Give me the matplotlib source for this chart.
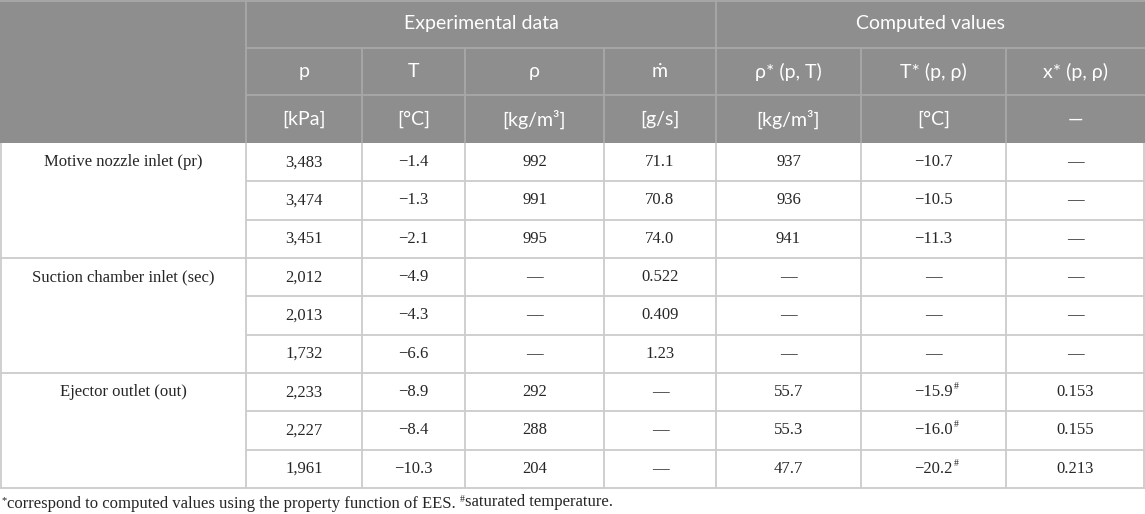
import matplotlib
matplotlib.use("Agg")
import matplotlib.pyplot as plt
from matplotlib.patches import Rectangle

# ---------------- data ----------------
groups = ["Motive nozzle inlet (pr)", "Suction chamber inlet (sec)", "Ejector outlet (out)"]
group_top_header = ["Experimental data", "Computed values"]
col_symbols = ["p", "T", "ρ", "ṁ", "ρ* (p, T)", "T* (p, ρ)", "x* (p, ρ)"]
col_units = ["[kPa]", "[°C]", "[kg/m³]", "[g/s]", "[kg/m³]", "[°C]", "—"]

p_vals = ["3,483", "3,474", "3,451", "2,012", "2,013", "1,732", "2,233", "2,227", "1,961"]
T_vals = ["−1.4", "−1.3", "−2.1", "−4.9", "−4.3", "−6.6", "−8.9", "−8.4", "−10.3"]
rho_vals = ["992", "991", "995", "—", "—", "—", "292", "288", "204"]
mdot_vals = ["71.1", "70.8", "74.0", "0.522", "0.409", "1.23", "—", "—", "—"]
rho_star_vals = ["937", "936", "941", "—", "—", "—", "55.7", "55.3", "47.7"]
T_star_vals = ["−10.7", "−10.5", "−11.3", "—", "—", "—", "−15.9", "−16.0", "−20.2"]
T_star_sat = [False, False, False, False, False, False, True, True, True]
x_star_vals = ["—", "—", "—", "—", "—", "—", "0.153", "0.155", "0.213"]

footnote_a = "correspond to computed values using the property function of EES. "
footnote_b = "saturated temperature."

# ---------------- layout ----------------
W, H = 1145, 514
col_edges = [0, 246, 362, 465, 604, 716, 861, 1006, 1145]
span_edges = [246, 716, 1145]
head_rows = [0, 48, 95, 143]
row_h = 38.33
n_rows = len(p_vals)
rows_per_group = 3
body_top = head_rows[-1]

HEAD_BG = "#8e8e8e"
HEAD_LINE = "#a8a8a8"
BODY_LINE = "#cccccc"
TXT = "#262626"
SANS = ["Lato", "DejaVu Sans"]
SERIF = ["Liberation Serif", "DejaVu Serif"]

fig = plt.figure(figsize=(W / 100, H / 100), dpi=100)
ax = fig.add_axes([0, 0, 1, 1])
ax.set_xlim(0, W)
ax.set_ylim(H, 0)
ax.axis("off")

# header background
ax.add_patch(Rectangle((0, 0), W, head_rows[-1], facecolor=HEAD_BG, edgecolor="none", zorder=0))

# header lines
lw = 1.3
ax.hlines([0.7], 0, W, color=HEAD_LINE, lw=lw, zorder=1)
ax.hlines(head_rows[1:3], col_edges[1], W, color=HEAD_LINE, lw=lw, zorder=1)
ax.vlines(span_edges[:-1], head_rows[0], head_rows[1], color=HEAD_LINE, lw=lw, zorder=1)
ax.vlines(col_edges[1:-1], head_rows[1], head_rows[3], color=HEAD_LINE, lw=lw, zorder=1)

# header texts
hfs = 14
for i, lab in enumerate(group_top_header):
    cx = (span_edges[i] + span_edges[i + 1]) / 2
    ax.text(cx, (head_rows[0] + head_rows[1]) / 2, lab, ha="center", va="center",
            color="white", fontsize=hfs, family=SANS)
for j, (s, u) in enumerate(zip(col_symbols, col_units)):
    cx = (col_edges[j + 1] + col_edges[j + 2]) / 2
    ax.text(cx, (head_rows[1] + head_rows[2]) / 2, s, ha="center", va="center",
            color="white", fontsize=hfs, family=SANS)
    ax.text(cx, (head_rows[2] + head_rows[3]) / 2, u, ha="center", va="center",
            color="white", fontsize=hfs, family=SANS)

# body lines
row_bounds = [body_top + k * row_h for k in range(n_rows + 1)]
for k, yb in enumerate(row_bounds[1:], start=1):
    if k % rows_per_group == 0:
        ax.hlines(yb, 0, W, color=BODY_LINE, lw=lw, zorder=1)
    else:
        ax.hlines(yb, col_edges[1], W, color=BODY_LINE, lw=lw, zorder=1)
ax.vlines([0.7] + col_edges[1:-1] + [W - 0.7], body_top, row_bounds[-1], color=BODY_LINE, lw=lw, zorder=1)

# body texts
bfs = 12
columns = [p_vals, T_vals, rho_vals, mdot_vals, rho_star_vals, T_star_vals, x_star_vals]
for g, name in enumerate(groups):
    yc = body_top + (g * rows_per_group + 0.5) * row_h
    ax.text((col_edges[0] + col_edges[1]) / 2, yc, name, ha="center", va="center",
            color=TXT, fontsize=bfs, family=SERIF)
for j, colvals in enumerate(columns):
    cx = (col_edges[j + 1] + col_edges[j + 2]) / 2
    for i, v in enumerate(colvals):
        yc = body_top + (i + 0.5) * row_h
        t = ax.text(cx, yc, v, ha="center", va="center", color=TXT, fontsize=bfs, family=SERIF)
        if colvals is T_star_vals and T_star_sat[i]:
            ax.annotate("#", xy=(1, 0.85), xycoords=t, xytext=(0.5, 0), textcoords="offset points",
                        ha="left", va="center", fontsize=7, color=TXT, family=SERIF)

# footnote
fy = 501
t1 = ax.text(2, fy, "*", ha="left", va="center", fontsize=7.5, color=TXT, family=SERIF)
t2 = ax.annotate(footnote_a, xy=(1, 0.2), xycoords=t1, ha="left", va="center",
                 fontsize=bfs, color=TXT, family=SERIF)
t3 = ax.annotate("#", xy=(1, 0.75), xycoords=t2, ha="left", va="center",
                 fontsize=7, color=TXT, family=SERIF)
ax.annotate(footnote_b, xy=(1, 0.25), xycoords=t3, ha="left", va="center",
            fontsize=bfs, color=TXT, family=SERIF)

fig.savefig("out.png", dpi=100, facecolor="white")
